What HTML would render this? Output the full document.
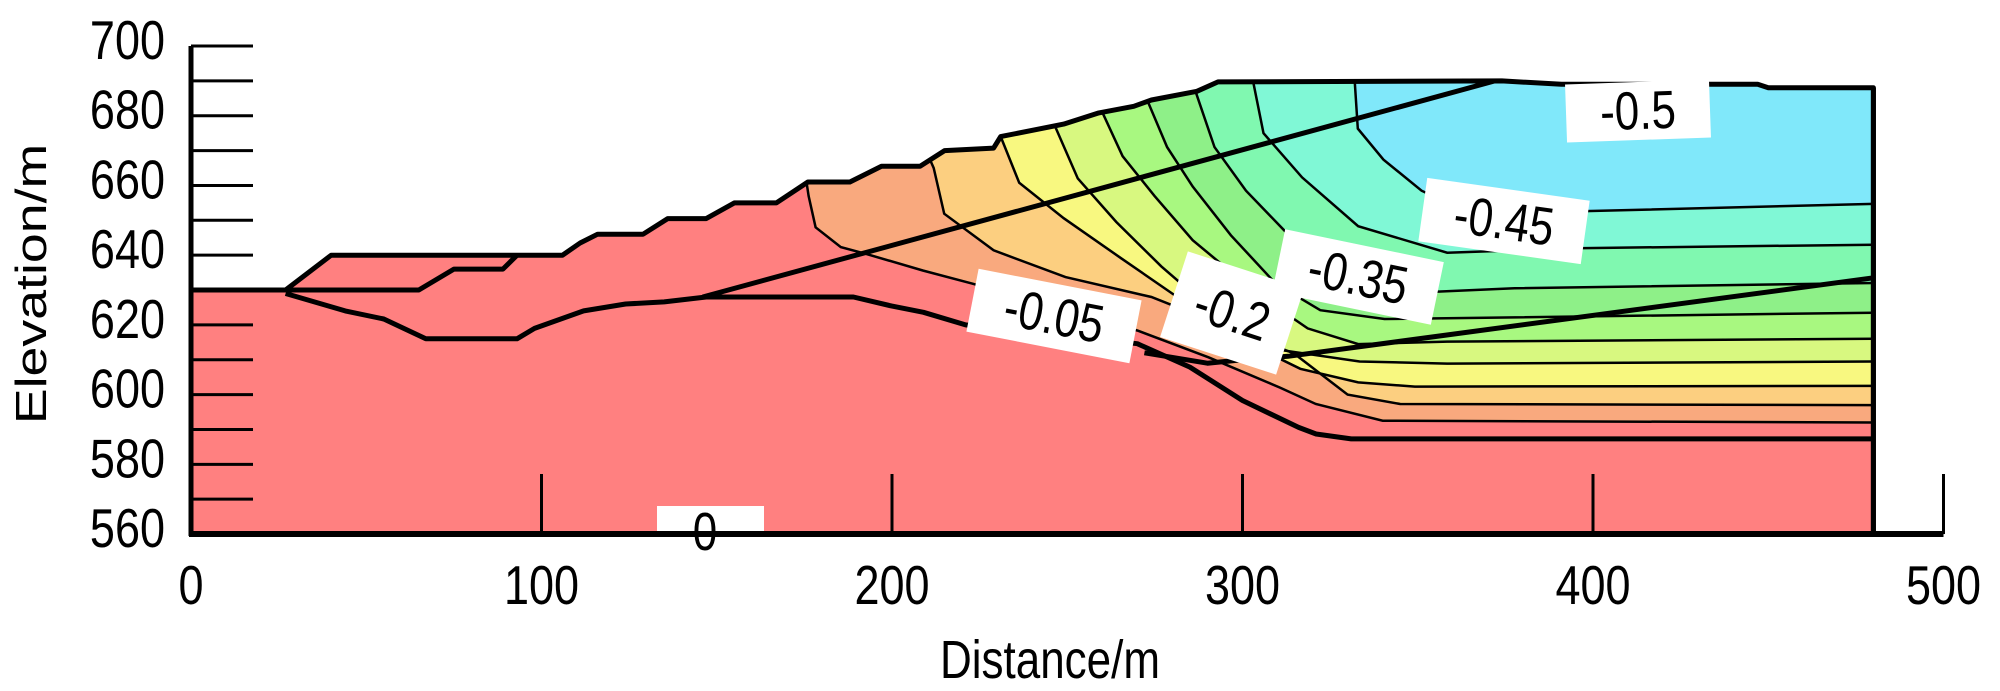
<!DOCTYPE html>
<html><head><meta charset="utf-8"><style>
html,body{margin:0;padding:0;background:#fff;}
svg{display:block;}
text{font-family:"Liberation Sans",sans-serif;fill:#000;}
</style></head><body>
<svg id="chart" width="2000" height="691" viewBox="0 0 2000 691">
<defs><clipPath id="domclip"><polygon id="domclip-poly"></polygon></clipPath></defs>
<g id="fills" clip-path="url(#domclip)"></g>
<g id="lines"></g>
<g id="labels"></g>
<g id="axes"></g>
</svg>
<script>
// ---- data (metres) ----
const surface = [[0,630],[27,630],[40,640],[106,640],[111,643.5],[116,646],[129,646],[136,650.5],[147,650.5],[155,655],[167,655],[176,661],[188,661],[197,665.5],[208,665.5],[215,670],[229,670.7],[231,674],[249,677.6],[259,680.8],[269,682.7],[274,684.5],[287,687],[293,689.7],[374,690],[391,689],[447,689],[450,688],[480,688]];
const lowerCurve = [[27,629],[44,624],[55,621.7],[67,616],[93,616],[98,619],[112,624],[124,626],[135,626.6],[147,628],[189,628],[200,625.4],[209,623.6],[221,620],[270,614.6],[285,607.9],[300,598.3],[316,590.6],[321,588.7],[331,587.3],[480,587.3]];
const lensLine = [[0,630],[65,630],[75,636],[89,636],[93,640]];
const fault1 = [[146,628],[372,690]];
const fault2 = [[272,612],[290,609],[300,610],[313,611],[480,633.5]];
const bandColors = ["#f9a97e","#fccf80","#f8f880","#d8f880","#a8f880","#8ef088","#80f8b0","#80f8d6","#80e8fa"];
const contour1 = [[175.6,661],[176.2,657],[178.2,648],[185.4,642.3],[192.5,640.4],[208.8,635.6],[223,631.8],[270,618.4],[290.3,610.7],[310.7,602],[320.9,597.3],[340,592.5],[480,592]];
const contour2 = [[211,667],[211.9,665],[214.9,651.9],[229,641.4],[249.5,633.7],[274,628],[314.7,611.8],[330,600],[345,597.3],[480,597]];
const contour3 = [[231,674],[236.3,660.8],[249,650.6],[265.4,639.1],[283.7,626.4],[303.7,613.7],[316.5,607.4],[333,603.5],[349.2,602.3],[480,602.5]];
const contour4 = [[246.5,677],[253,662],[264,649.5],[276.8,636.8],[291.4,624.1],[311.5,612.7],[333.4,609.5],[358.4,608.9],[480,609.5]];
const contour5 = [[260,681],[265.8,668.4],[274.9,657],[285.8,644.3],[304,629.1],[318.6,619],[333,614.5],[358.4,615.2],[480,616]];
const contour6 = [[273,684],[278.5,671],[285.8,659.7],[296.7,645.7],[309.5,631.8],[322.2,624.2],[340.5,621.7],[480,623.5]];
const contour7 = [[286.6,687],[292,671],[301,658.5],[312,647],[326.6,635.6],[348.5,629.2],[377.6,630.5],[480,632]];
const contour8 = [[303,690],[306,675],[317,662.3],[333,648.3],[358.4,640.7],[395,642],[480,643]];
const contour9 = [[332,690],[332.9,676.3],[340.2,667.4],[351.1,658.5],[362,653.4],[376.6,652.1],[480,654.7]];
const contours = [contour1,contour2,contour3,contour4,contour5,contour6,contour7,contour8,contour9];
const labelTexts = ["-0.5","-0.45","-0.35","-0.2","-0.05","0"];
const xTicks = [0,100,200,300,400,500];
const yTicks = [560,580,600,620,640,660,680,700];

// ---- scales ----
const X = m => 191 + m*3.505;
const Y = v => 46 + (700-v)*3.486;
const NS = "http://www.w3.org/2000/svg";
const pts = arr => arr.map(p => X(p[0]).toFixed(1)+","+Y(p[1]).toFixed(1)).join(" ");
function mk(tag, parent, attrs){const e=document.createElementNS(NS,tag);for(const k in attrs)e.setAttribute(k,attrs[k]);parent.appendChild(e);return e;}
function tallText(parent, x, y, str, size, anchor, extra){
  const g = mk("g", parent, {transform:`translate(${x},${y}) ${extra||""} scale(1,1.22)`});
  const t = mk("text", g, {x:0, y:0, "text-anchor":anchor, "font-size":size});
  t.textContent = str;
  return t;
}

const fills=document.getElementById("fills"), lines=document.getElementById("lines"), labels=document.getElementById("labels"), axes=document.getElementById("axes");
const domain = surface.concat([[480,560],[0,560]]);
document.getElementById("domclip-poly").setAttribute("points", pts(domain));

const base = mk("polygon", fills, {points: pts(domain), fill:"#ff8080"});


contours.forEach((c,i)=>{
  const poly = [[c[0][0],705]].concat(c).concat([[495,c[c.length-1][1]],[495,705]]);
  const p = mk("polygon", fills, {points: pts(poly), fill: bandColors[i]});
  
  
});
contours.forEach((c,i)=>{
  const l = mk("polyline", lines, {points: pts(c), fill:"none", stroke:"#000", "stroke-width":2.5, "clip-path":"url(#domclip)"});
  
  
});
const thick = [["lower-boundary",lowerCurve],["lens-line",lensLine],["fault-1",fault1],["fault-2",fault2]];
thick.forEach(t=>{
  const l = mk("polyline", lines, {points: pts(t[1]), fill:"none", stroke:"#000", "stroke-width":5, "stroke-linejoin":"round"});
  
  
});
const outline = mk("polyline", lines, {points: pts(surface.concat([[480,560]])), fill:"none", stroke:"#000", "stroke-width":5, "stroke-linejoin":"round"});



// labels: [text index, cx, cy, w, h, rot]
const labelBoxes = [[0,1638,111,144,58,-2],[1,1504,221,164,64,8],[2,1358,277,162,64,11.7],[3,1232,313,122,90,18],[4,1054,316,166,64,11]];
labelBoxes.forEach(b=>{
  const g = mk("g", labels, {transform:`translate(${b[1]},${b[2]}) rotate(${b[5]})`});
  
  
  mk("rect", g, {x:-b[3]/2, y:-b[4]/2, width:b[3], height:b[4], fill:"#fff"});
  tallText(g, 0, 18, labelTexts[b[0]], 44, "middle");
});
const zg = mk("g", labels, {});


mk("rect", zg, {x:657, y:506, width:107, height:28, fill:"#fff"});
tallText(zg, 705, 550, labelTexts[5], 44, "middle");

// axes
const ya = mk("line", axes, {x1:X(0), y1:Y(700), x2:X(0), y2:Y(560)+2, stroke:"#000", "stroke-width":5});
 
const xa = mk("line", axes, {x1:X(0)-2, y1:Y(560), x2:X(500), y2:Y(560), stroke:"#000", "stroke-width":6});
 
const re = mk("line", axes, {x1:X(480), y1:Y(688), x2:X(480), y2:Y(560), stroke:"#000", "stroke-width":5});
 
for(let v=560; v<=700; v+=10){
  const tk = mk("line", axes, {x1:X(0), y1:Y(v), x2:X(0)+62, y2:Y(v), stroke:"#000", "stroke-width":3});
   
}
yTicks.forEach(v=>{
  const t = tallText(axes, 165, Y(v)+13, String(v), 45, "end");
   
});
xTicks.forEach(v=>{
  if(v>0){
    const tk = mk("line", axes, {x1:X(v), y1:Y(560), x2:X(v), y2:474, stroke:"#000", "stroke-width":3});
     
  }
  const t = tallText(axes, X(v), 604, String(v), 45, "middle");
   
});
const xt = tallText(axes, 1050, 678, "Distance/m", 44, "middle");
 
const ytg = mk("g", axes, {transform:"translate(46,284) rotate(-90) scale(1.22,1)"});
const yt = mk("text", ytg, {x:0, y:0, "text-anchor":"middle", "font-size":44});
 
yt.textContent = "Elevation/m";
</script>
</body></html>
